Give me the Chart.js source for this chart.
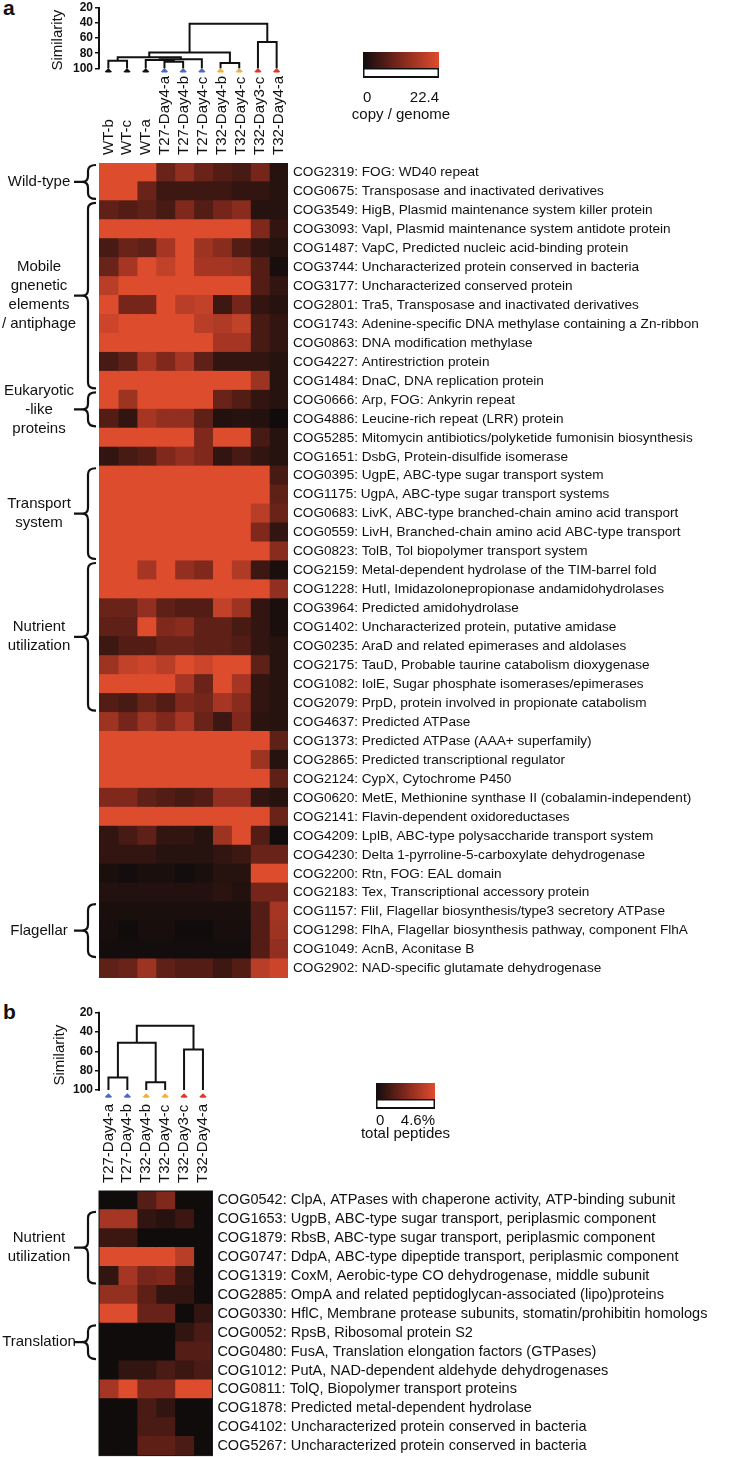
<!DOCTYPE html>
<html>
<head>
<meta charset="utf-8">
<title>COG heatmaps</title>
<script src="https://cdn.jsdelivr.net/npm/chart.js@4.4.1/dist/chart.umd.min.js"></script>
<style>
  body { margin: 0; background: #fff; }
  #page { position: relative; width: 743px; height: 1457px; overflow: hidden; font-family: "Liberation Sans", Arial, sans-serif; }
  canvas { position: absolute; }
  .tag { position: absolute; left: 3px; font-weight: bold; font-size: 21px; line-height: 21px; color: #111; }
</style>
</head>
<body>
<div id="page">
  <div class="tag" style="top:-3px">a</div>
  <div class="tag" style="top:1001px">b</div>
  <canvas id="dendA" width="245" height="80" style="left:45px;top:0"></canvas>
  <canvas id="heatA" width="743" height="920" style="left:0;top:70px"></canvas>
  <canvas id="barA" width="145" height="90" style="left:330px;top:40px"></canvas>
  <canvas id="dendB" width="170" height="105" style="left:47px;top:1000px"></canvas>
  <canvas id="heatB" width="743" height="373" style="left:0;top:1095px"></canvas>
  <canvas id="barB" width="130" height="80" style="left:340px;top:1070px"></canvas>
</div>
<script>
// ---- panel a data ----
const samplesA = ['WT-b', 'WT-c', 'WT-a', 'T27-Day4-a', 'T27-Day4-b', 'T27-Day4-c', 'T32-Day4-b', 'T32-Day4-c', 'T32-Day3-c', 'T32-Day4-a'];
const leafColorsA = ['#111', '#111', '#111', '#4a68c8', '#4a68c8', '#4a68c8', '#f2b13a', '#f2b13a', '#e0372b', '#e0372b'];
// [left node, right node, similarity]; leaves are 0..9, merged nodes get 10, 11, ...
const mergesA = [[0, 1, 90], [3, 4, 91.5], [2, 11, 89], [12, 5, 88], [10, 13, 85.5], [6, 7, 93], [14, 15, 79], [8, 9, 65], [16, 17, 41]];

const rowsA = [
  'COG2319: FOG: WD40 repeat',
  'COG0675: Transposase and inactivated derivatives',
  'COG3549: HigB, Plasmid maintenance system killer protein',
  'COG3093: VapI, Plasmid maintenance system antidote protein',
  'COG1487: VapC, Predicted nucleic acid-binding protein',
  'COG3744: Uncharacterized protein conserved in bacteria',
  'COG3177: Uncharacterized conserved protein',
  'COG2801: Tra5, Transposase and inactivated derivatives',
  'COG1743: Adenine-specific DNA methylase containing a Zn-ribbon',
  'COG0863: DNA modification methylase',
  'COG4227: Antirestriction protein',
  'COG1484: DnaC, DNA replication protein',
  'COG0666: Arp, FOG: Ankyrin repeat',
  'COG4886: Leucine-rich repeat (LRR) protein',
  'COG5285: Mitomycin antibiotics/polyketide fumonisin biosynthesis',
  'COG1651: DsbG, Protein-disulfide isomerase',
  'COG0395: UgpE, ABC-type sugar transport system',
  'COG1175: UgpA, ABC-type sugar transport systems',
  'COG0683: LivK, ABC-type branched-chain amino acid transport',
  'COG0559: LivH, Branched-chain amino acid ABC-type transport',
  'COG0823: TolB, Tol biopolymer transport system',
  'COG2159: Metal-dependent hydrolase of the TIM-barrel fold',
  'COG1228: HutI, Imidazolonepropionase andamidohydrolases',
  'COG3964: Predicted amidohydrolase',
  'COG1402: Uncharacterized protein, putative amidase',
  'COG0235: AraD and related epimerases and aldolases',
  'COG2175: TauD, Probable taurine catabolism dioxygenase',
  'COG1082: IolE, Sugar phosphate isomerases/epimerases',
  'COG2079: PrpD, protein involved in propionate catabolism',
  'COG4637: Predicted ATPase',
  'COG1373: Predicted ATPase (AAA+ superfamily)',
  'COG2865: Predicted transcriptional regulator',
  'COG2124: CypX, Cytochrome P450',
  'COG0620: MetE, Methionine synthase II (cobalamin-independent)',
  'COG2141: Flavin-dependent oxidoreductases',
  'COG4209: LplB, ABC-type polysaccharide transport system',
  'COG4230: Delta 1-pyrroline-5-carboxylate dehydrogenase',
  'COG2200: Rtn, FOG: EAL domain',
  'COG2183: Tex, Transcriptional accessory protein',
  'COG1157: FliI, Flagellar biosynthesis/type3 secretory ATPase',
  'COG1298: FlhA, Flagellar biosynthesis pathway, component FlhA',
  'COG1049: AcnB, Aconitase B',
  'COG2902: NAD-specific glutamate dehydrogenase'
];

// copy / genome, one row per COG, columns in samplesA order
const valuesA = [
  [22.4, 22.4, 22.4, 9.0, 13.4, 9.0, 6.7, 5.6, 10.1, 2.2],
  [22.4, 22.4, 9.0, 4.5, 4.5, 4.5, 4.5, 3.4, 3.4, 2.2],
  [7.8, 6.7, 7.8, 5.6, 11.2, 6.7, 10.1, 12.3, 2.2, 2.2],
  [22.4, 22.4, 22.4, 22.4, 22.4, 22.4, 22.4, 22.4, 11.2, 3.4],
  [5.6, 9.0, 7.8, 15.7, 22.4, 14.6, 12.3, 6.7, 3.4, 2.2],
  [9.0, 15.7, 22.4, 19.0, 22.4, 15.7, 15.7, 14.6, 6.7, 0.7],
  [17.9, 22.4, 22.4, 22.4, 22.4, 22.4, 22.4, 22.4, 6.7, 3.4],
  [22.4, 10.1, 10.1, 22.4, 17.9, 19.0, 4.5, 10.1, 3.4, 2.2],
  [20.2, 22.4, 22.4, 22.4, 22.4, 17.9, 16.8, 19.0, 5.6, 3.4],
  [22.4, 22.4, 22.4, 22.4, 22.4, 22.4, 15.7, 15.7, 5.6, 3.4],
  [5.6, 7.8, 15.7, 11.2, 15.7, 7.8, 3.4, 3.4, 3.4, 2.2],
  [22.4, 22.4, 22.4, 22.4, 22.4, 22.4, 22.4, 22.4, 14.6, 2.2],
  [22.4, 14.6, 22.4, 22.4, 22.4, 22.4, 9.0, 6.7, 3.4, 2.2],
  [6.7, 3.4, 15.7, 13.4, 13.4, 7.8, 1.8, 2.2, 1.8, 0],
  [22.4, 22.4, 22.4, 22.4, 22.4, 11.2, 22.4, 22.4, 5.6, 2.2],
  [3.4, 5.6, 6.7, 11.2, 13.4, 11.2, 3.4, 5.6, 3.4, 2.2],
  [22.4, 22.4, 22.4, 22.4, 22.4, 22.4, 22.4, 22.4, 22.4, 5.6],
  [22.4, 22.4, 22.4, 22.4, 22.4, 22.4, 22.4, 22.4, 22.4, 7.8],
  [22.4, 22.4, 22.4, 22.4, 22.4, 22.4, 22.4, 22.4, 17.9, 9.0],
  [22.4, 22.4, 22.4, 22.4, 22.4, 22.4, 22.4, 22.4, 11.2, 3.4],
  [22.4, 22.4, 22.4, 22.4, 22.4, 22.4, 22.4, 22.4, 22.4, 12.3],
  [22.4, 22.4, 15.7, 22.4, 13.4, 11.2, 22.4, 16.8, 4.5, 1.1],
  [22.4, 22.4, 22.4, 22.4, 22.4, 22.4, 22.4, 22.4, 22.4, 13.4],
  [9.0, 9.0, 13.4, 7.8, 6.7, 6.7, 19.0, 14.6, 3.4, 1.1],
  [7.8, 7.8, 22.4, 11.2, 12.3, 7.8, 7.8, 5.6, 3.4, 1.1],
  [4.5, 6.7, 6.7, 9.0, 9.0, 7.8, 7.8, 6.7, 3.4, 2.2],
  [14.6, 19.0, 20.2, 17.9, 22.4, 20.2, 22.4, 22.4, 7.8, 2.2],
  [22.4, 22.4, 22.4, 22.4, 15.7, 9.0, 22.4, 15.7, 3.4, 2.2],
  [6.7, 5.6, 9.0, 6.7, 11.2, 10.1, 15.7, 12.3, 3.4, 2.2],
  [14.6, 10.1, 14.6, 11.2, 15.7, 9.0, 4.5, 11.2, 2.7, 2.2],
  [22.4, 22.4, 22.4, 22.4, 22.4, 22.4, 22.4, 22.4, 22.4, 7.8],
  [22.4, 22.4, 22.4, 22.4, 22.4, 22.4, 22.4, 22.4, 14.6, 2.2],
  [22.4, 22.4, 22.4, 22.4, 22.4, 22.4, 22.4, 22.4, 22.4, 7.8],
  [11.2, 11.2, 7.8, 6.7, 5.6, 6.7, 13.4, 13.4, 3.4, 2.2],
  [22.4, 22.4, 22.4, 22.4, 22.4, 22.4, 22.4, 22.4, 22.4, 9.0],
  [3.4, 5.6, 7.8, 3.4, 3.4, 2.2, 14.6, 22.4, 6.7, 0.4],
  [3.4, 3.4, 3.4, 2.2, 2.2, 2.2, 3.4, 4.5, 9.0, 9.0],
  [1.1, 0.4, 1.1, 1.1, 0.4, 1.1, 2.2, 2.2, 22.4, 22.4],
  [1.8, 1.8, 1.8, 1.8, 1.8, 1.8, 2.7, 1.8, 10.1, 10.1],
  [1.1, 1.1, 1.1, 1.1, 1.1, 1.1, 1.1, 1.1, 6.7, 15.7],
  [0.7, 0, 0.7, 0.7, 0, 0, 0.7, 0.7, 6.7, 14.6],
  [0.4, 0.4, 0.4, 0.4, 0.4, 0.4, 0.4, 0.4, 6.7, 13.4],
  [7.8, 9.0, 14.6, 7.8, 6.7, 6.7, 4.5, 6.7, 17.9, 20.2]
];
const maxA = 22.4;

// bracket groups, first and last row index
const groupsA = [
  {text: ['Wild-type'], from: 0, to: 1},
  {text: ['Mobile', 'gnenetic', 'elements', '/ antiphage'], from: 2, to: 11},
  {text: ['Eukaryotic', '-like', 'proteins'], from: 12, to: 13},
  {text: ['Transport', 'system'], from: 16, to: 20},
  {text: ['Nutrient', 'utilization'], from: 21, to: 28},
  {text: ['Flagellar'], from: 39, to: 41}
];

// ---- panel b data ----
const samplesB = ['T27-Day4-a', 'T27-Day4-b', 'T32-Day4-b', 'T32-Day4-c', 'T32-Day3-c', 'T32-Day4-a'];
const leafColorsB = ['#4a68c8', '#4a68c8', '#f2b13a', '#f2b13a', '#e0372b', '#e0372b'];
const mergesB = [[0, 1, 87], [2, 3, 92], [6, 7, 51], [4, 5, 58], [8, 9, 33.5]];

const rowsB = [
  'COG0542: ClpA, ATPases with chaperone activity, ATP-binding subunit',
  'COG1653: UgpB, ABC-type sugar transport, periplasmic component',
  'COG1879: RbsB, ABC-type sugar transport, periplasmic component',
  'COG0747: DdpA, ABC-type dipeptide transport, periplasmic component',
  'COG1319: CoxM, Aerobic-type CO dehydrogenase, middle subunit',
  'COG2885: OmpA and related peptidoglycan-associated (lipo)proteins',
  'COG0330: HflC, Membrane protease subunits, stomatin/prohibitin homologs',
  'COG0052: RpsB, Ribosomal protein S2',
  'COG0480: FusA, Translation elongation factors (GTPases)',
  'COG1012: PutA, NAD-dependent aldehyde dehydrogenases',
  'COG0811: TolQ, Biopolymer transport proteins',
  'COG1878: Predicted metal-dependent hydrolase',
  'COG4102: Uncharacterized protein conserved in bacteria',
  'COG5267: Uncharacterized protein conserved in bacteria'
];

// % of total peptides
const valuesB = [
  [0, 0, 1.4, 2.3, 0, 0],
  [3.2, 3.2, 0.7, 0.5, 0.9, 0],
  [0.9, 0.9, 0, 0, 0, 0],
  [4.6, 4.6, 4.6, 4.6, 3.7, 0],
  [0.7, 3.2, 2.1, 2.3, 0.9, 0],
  [2.8, 2.8, 1.6, 0.7, 0.7, 0],
  [4.6, 4.6, 1.8, 1.8, 0, 0.7],
  [0, 0, 0, 0, 0.7, 1.2],
  [0, 0, 0, 0, 1.4, 1.4],
  [0, 0.7, 0.7, 1.2, 0.9, 1.2],
  [3.2, 4.6, 2.3, 2.3, 4.6, 4.6],
  [0, 0, 1.2, 0.7, 0, 0],
  [0, 0, 1.2, 1.2, 0, 0],
  [0, 0, 1.6, 1.6, 1.2, 0]
];
const maxB = 4.6;

const groupsB = [
  {text: ['Nutrient', 'utilization'], from: 1, to: 4},
  {text: ['Translation'], from: 7, to: 8}
];

const simTicks = [20, 40, 60, 80, 100];
const heatStops = [[0, [16, 12, 12]], [0.5, [128, 40, 28]], [1, [222, 76, 46]]];

Chart.defaults.font.family = '"Liberation Sans", Arial, sans-serif';
Chart.defaults.color = '#111';

function heatColor(t) {
  t = Math.max(0, Math.min(1, t));
  for (let i = 1; i < heatStops.length; i++) {
    const [t0, c0] = heatStops[i - 1];
    const [t1, c1] = heatStops[i];
    if (t <= t1) {
      const f = (t - t0) / (t1 - t0);
      return 'rgb(' + c0.map((c, k) => Math.round(c + (c1[k] - c) * f)).join(',') + ')';
    }
  }
}

function gradientFill(chart) {
  const a = chart.chartArea;
  if (!a) return '#000';
  const g = chart.ctx.createLinearGradient(a.left, 0, a.right, 0);
  heatStops.forEach(([t, c]) => g.addColorStop(t, 'rgb(' + c.join(',') + ')'));
  return g;
}

// curly brackets + group names on the left of a heatmap
const bracePlugin = {
  id: 'braces',
  afterDraw(chart, args, opts) {
    const y = chart.scales.y;
    const ctx = chart.ctx;
    const band = (y.bottom - y.top) / chart.data.labels.length;
    ctx.save();
    ctx.strokeStyle = '#111';
    ctx.fillStyle = '#111';
    ctx.lineWidth = 2.2;
    ctx.font = '15px "Liberation Sans", Arial, sans-serif';
    ctx.textAlign = 'center';
    ctx.textBaseline = 'middle';
    opts.groups.forEach(g => {
      const top = y.getPixelForValue(g.from) - band / 2 + 2;
      const bot = y.getPixelForValue(g.to) + band / 2 - 2;
      const mid = (top + bot) / 2;
      const xr = 96, xm = 88, xt = 82, r = 6;
      ctx.beginPath();
      ctx.moveTo(xr, top);
      ctx.quadraticCurveTo(xm, top, xm, top + r);
      ctx.lineTo(xm, mid - r);
      ctx.quadraticCurveTo(xm, mid, xt, mid);
      ctx.quadraticCurveTo(xm, mid, xm, mid + r);
      ctx.lineTo(xm, bot - r);
      ctx.quadraticCurveTo(xm, bot, xr, bot);
      ctx.moveTo(xt, mid);
      ctx.lineTo(xt - 8, mid);
      ctx.stroke();
      g.text.forEach((t, i) => ctx.fillText(t, 39, mid + (i - (g.text.length - 1) / 2) * 19));
    });
    if (opts.frame) {
      const a = chart.chartArea;
      ctx.lineWidth = 1;
      ctx.strokeRect(a.left, a.top, a.right - a.left, a.bottom - a.top);
    }
    ctx.restore();
  }
};

// similarity axis line, only between the first and last tick
const simAxis = {
  id: 'simAxis',
  afterDraw(chart) {
    const y = chart.scales.y;
    const ctx = chart.ctx;
    ctx.save();
    ctx.strokeStyle = '#111';
    ctx.lineWidth = 2;
    ctx.beginPath();
    ctx.moveTo(y.right, y.getPixelForValue(simTicks[0]) - 1);
    ctx.lineTo(y.right, y.getPixelForValue(simTicks[simTicks.length - 1]) + 1);
    ctx.stroke();
    ctx.restore();
  }
};

// outlined strip under the colour bar, and the unit caption below the ticks
const boxPlugin = {
  id: 'box',
  afterDraw(chart, args, opts) {
    const a = chart.chartArea;
    const ctx = chart.ctx;
    ctx.save();
    ctx.strokeStyle = '#111';
    ctx.lineWidth = 1.5;
    ctx.strokeRect(a.left + 0.75, a.bottom + 0.75, a.right - a.left - 1.5, 8);
    ctx.lineWidth = 2.2;
    ctx.beginPath();
    ctx.moveTo(a.left, a.bottom + 9);
    ctx.lineTo(a.right, a.bottom + 9);
    ctx.stroke();
    ctx.fillStyle = '#111';
    ctx.font = '15px "Liberation Sans", Arial, sans-serif';
    ctx.textAlign = 'center';
    ctx.textBaseline = 'middle';
    ctx.fillText(opts.caption, (a.left + a.right) / 2, opts.captionY);
    ctx.restore();
  }
};

function drawDendrogram(id, samples, merges, leafColors, leafY, yMax, yWidth, pad) {
  const xs = samples.map((s, i) => i + 0.5);
  const hs = samples.map(() => 100);
  const datasets = merges.map(([a, b, h]) => {
    const pts = [{x: xs[a], y: hs[a]}, {x: xs[a], y: h}, {x: xs[b], y: h}, {x: xs[b], y: hs[b]}];
    xs.push((xs[a] + xs[b]) / 2);
    hs.push(h);
    return {type: 'line', data: pts, borderColor: '#111', borderWidth: 2, pointRadius: 0, tension: 0, fill: false};
  });
  datasets.push({
    type: 'scatter',
    data: samples.map((s, i) => ({x: i + 0.5, y: leafY})),
    pointStyle: 'rectRot',
    pointRadius: 3.6,
    borderWidth: 0,
    backgroundColor: leafColors,
    borderColor: leafColors
  });

  new Chart(document.getElementById(id), {
    type: 'scatter',
    data: {datasets},
    options: {
      responsive: false,
      animation: false,
      layout: {padding: pad},
      plugins: {legend: {display: false}, tooltip: {enabled: false}},
      scales: {
        x: {type: 'linear', min: 0, max: samples.length, display: false},
        y: {
          type: 'linear',
          reverse: true,
          min: 20,
          max: yMax,
          afterBuildTicks: s => { s.ticks = simTicks.map(v => ({value: v})); },
          ticks: {autoSkip: false, font: {size: 12, weight: 'bold'}, color: '#111', padding: 2},
          grid: {drawOnChartArea: false, tickLength: 4, color: '#111', lineWidth: 1.5},
          border: {display: false},
          title: {display: true, text: 'Similarity', font: {size: 15}, color: '#111', padding: {top: 4, bottom: 0}},
          afterFit: s => { s.width = yWidth; s.paddingTop = 0; s.paddingBottom = 0; }
        }
      }
    },
    plugins: [simAxis]
  });
}

function drawHeatmap(id, rows, samples, values, maxV, groups, axisH, labelW, rowFont, pad, frame) {
  new Chart(document.getElementById(id), {
    type: 'bar',
    data: {
      labels: rows,
      datasets: samples.map((s, j) => ({
        label: s,
        data: rows.map(() => 1),
        backgroundColor: values.map(r => heatColor(r[j] / maxV)),
        barPercentage: 1,
        categoryPercentage: 1,
        borderWidth: 0,
        inflateAmount: 0.6
      }))
    },
    options: {
      indexAxis: 'y',
      responsive: false,
      animation: false,
      layout: {padding: pad},
      plugins: {legend: {display: false}, tooltip: {enabled: false}, braces: {groups, frame}},
      scales: {
        x: {
          type: 'linear',
          position: 'top',
          stacked: true,
          min: 0,
          max: samples.length,
          afterBuildTicks: s => { s.ticks = samples.map((_, i) => ({value: i + 0.5})); },
          ticks: {autoSkip: false, minRotation: 90, maxRotation: 90, padding: 8, labelOffset: 18,
                  font: {size: 15}, color: '#111', callback: v => samples[Math.floor(v)]},
          grid: {display: false, drawTicks: false},
          border: {display: false},
          afterFit: s => { s.height = axisH; s.paddingLeft = 0; s.paddingRight = 0; }
        },
        y: {
          position: 'right',
          stacked: true,
          ticks: {autoSkip: false, padding: 5, font: {size: rowFont}, color: '#111'},
          grid: {display: false, drawTicks: false},
          border: {display: false},
          afterFit: s => { s.width = labelW; s.paddingTop = 0; s.paddingBottom = 0; }
        }
      }
    },
    plugins: [bracePlugin]
  });
}

function drawColorbar(id, maxV, maxLabel, caption, captionY, pad, axisH, tickPad) {
  new Chart(document.getElementById(id), {
    type: 'bar',
    data: {
      labels: [''],
      datasets: [{data: [maxV], backgroundColor: c => gradientFill(c.chart), borderWidth: 0,
                  barPercentage: 1, categoryPercentage: 1}]
    },
    options: {
      indexAxis: 'y',
      responsive: false,
      animation: false,
      layout: {padding: pad},
      plugins: {legend: {display: false}, tooltip: {enabled: false}, box: {caption, captionY}},
      scales: {
        x: {
          type: 'linear',
          min: 0,
          max: maxV,
          afterBuildTicks: s => { s.ticks = [{value: 0}, {value: maxV}]; },
          ticks: {align: 'inner', padding: tickPad, font: {size: 15}, color: '#111',
                  callback: v => (v === 0 ? '0' : maxLabel)},
          grid: {display: false, drawTicks: false},
          border: {display: false},
          afterFit: s => { s.height = axisH; }
        },
        y: {display: false}
      }
    },
    plugins: [boxPlugin]
  });
}

drawDendrogram('dendA', samplesA, mergesA, leafColorsA, 104.5, 105.5, 54, {top: 8, bottom: 7.6, left: 0, right: 2});
drawHeatmap('heatA', rowsA, samplesA, valuesA, maxA, groupsA, 93, 455, 13.6, {left: 99, bottom: 12, top: 0, right: 0}, false);
drawColorbar('barA', maxA, '22.4', 'copy / genome', 75, {left: 33, right: 36, top: 12, bottom: 0}, 62, 21);

drawDendrogram('dendB', samplesB, mergesB, leafColorsB, 107, 108, 52, {top: 12.7, bottom: 7.3, left: 0, right: 4.6});
drawHeatmap('heatB', rowsB, samplesB, valuesB, maxB, groupsB, 96, 530.6, 14.5, {left: 99, bottom: 12.4, top: 0, right: 0}, true);
drawColorbar('barB', maxB, '4.6%', 'total peptides', 64, {left: 36, right: 35, top: 13, bottom: 0}, 51, 13);
</script>
</body>
</html>
